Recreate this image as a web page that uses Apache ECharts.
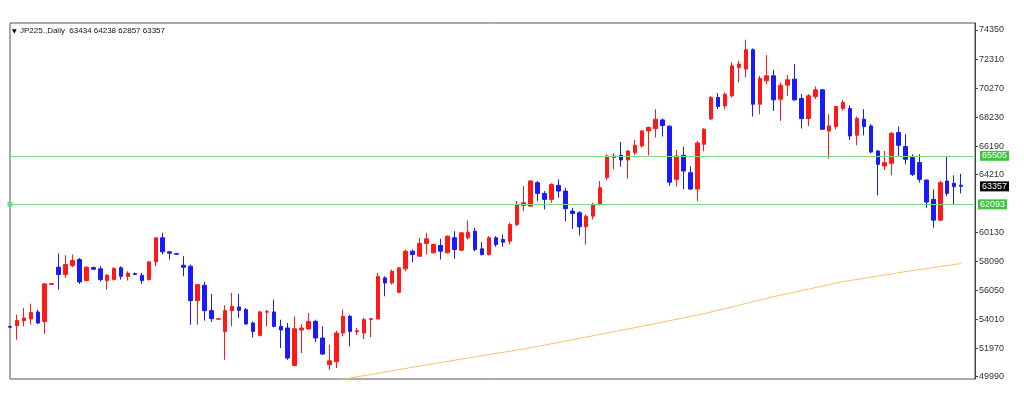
<!DOCTYPE html>
<html>
<head>
<meta charset="utf-8">
<script src="https://cdn.jsdelivr.net/npm/echarts@6/dist/echarts.min.js"></script>
<style>
html,body{margin:0;padding:0;background:#fff;}
#chart{width:1024px;height:402px;}
</style>
</head>
<body>
<div id="chart"></div>
<script>
// ---- data (JP225 daily) ----
const openP = [53505,53562,53914,54034,54527,53865,56472,57670,57156,57790,58213,56733,57649,57557,56733,56803,57628,57015,57226,57107,
56803,58050,59742,58756,58636,57811,57741,55324,56402,54619,54020,53160,54619,54880,54689,53752,52878,54513,54527,53512,
53400,50764,53258,53329,53865,52695,50813,51025,53047,54217,53139,53047,54006,54034,56923,56571,55909,57557,58798,58446,
59340,58685,59199,58685,59742,58868,59742,60207,58967,58565,59742,59622,59502,60678,62018,61969,63618,62864,62441,63428,
63026,61617,61504,60517,61264,62089,63970,65380,65542,65210,65732,66197,67254,67423,68029,67585,63850,65542,64322,63167,
66317,68100,69608,69016,69720,71722,71602,72962,69136,70778,71130,69488,70475,70897,69537,68128,69678,70143,67254,67564,
68833,68833,66951,68079,67606,65845,64788,64978,67141,66155,65380,65028,63801,62441,60982,63731,63569,63434];
const closeP = [53456,53935,54104,54499,53752,56500,56522,57156,57861,58142,56641,57670,57529,56803,57107,57579,57036,57248,57156,56733,
58050,59742,58756,58657,58586,57670,55324,56451,54619,54055,54055,54619,54922,54640,53682,53160,54527,54548,53512,53258,
51286,53350,53400,53865,52695,51567,51095,53047,54217,53160,53210,53984,54055,57015,56571,57389,57628,58798,58565,59340,
59671,59270,58798,59855,58917,60094,60137,58917,58565,59742,59270,59432,60678,62089,62208,63731,62864,62441,63498,63026,
61786,61454,60517,61264,62089,63266,65493,65493,65210,65845,66247,67254,67494,68079,67635,63653,65493,64435,63167,66408,
67374,69608,68974,69840,71835,71955,72962,69136,70947,71130,69439,70475,70848,69439,68128,69721,70143,67374,67606,68974,
69256,66902,68128,67564,65774,64907,65028,67092,66247,65260,64203,63850,62251,60982,63618,62864,63336,63357];
const lowP = [53421,52575,53512,53632,53682,52977,56451,56098,56923,57670,56500,56684,57508,56684,56098,56733,56803,56733,57121,56500,
56733,57741,58565,58213,58565,57036,53632,53632,53914,53823,53984,51165,53512,54104,53632,52737,52808,53512,53442,51990,
51165,50694,51638,53280,52413,51518,50461,50581,52808,52104,52927,52624,52765,54020,55627,56451,55866,57389,58022,58420,
58565,58636,58213,58636,58262,58798,59622,58798,58495,58495,59107,59107,59270,60559,61617,61926,62321,61736,62208,62561,
60912,60376,59904,59270,61031,62018,63801,64555,64745,63900,65542,66085,65542,66789,66860,63399,63350,63146,63111,62321,
65824,68029,68783,68783,69608,70665,71017,68269,68431,70545,68664,67959,69721,69368,67423,67606,69488,67325,65309,67374,
68664,66620,66247,66951,65683,62724,64506,64132,65493,64907,64083,63618,61856,60447,60912,62674,62089,62857];
const highP = [53562,54337,54809,55112,54689,56571,56557,58636,58516,58565,58333,57741,57720,57741,57205,57670,57741,57389,57297,57276,
58093,59760,60094,58798,58657,58446,57861,56500,56641,55796,54076,54992,55866,55796,54809,53865,54619,54689,55394,53984,
53752,54217,53682,54456,53984,53512,52223,53210,54689,54337,53400,54104,54104,57276,57036,57508,57699,58917,58917,59742,
60094,59340,59671,59904,60207,60137,60961,60447,59432,59855,59855,59975,60799,62321,63378,63801,63731,63026,63569,63850,
63266,61856,61617,61384,62208,63731,65612,65683,66479,65915,66620,67325,67564,68783,68128,67656,65915,66155,64766,66549,
67458,69721,69911,69960,72074,72187,73667,73061,71130,72589,71553,70665,71179,71955,69840,69840,70383,70193,68431,69016,
69439,69065,68269,68783,67726,65915,65845,67184,67564,67021,65612,65612,63850,63146,63731,65492,64132,64238];
// moving average read at a few candles (index -> value), connected by the library
const maIndex = [44, 48, 60, 75, 90, 100, 110, 120, 130, 137];
const maValue = [49420, 49792, 50813, 52011, 53420, 54408, 55605, 56662, 57438, 57931];
// horizontal levels and price labels
const levels = [65505, 62093];
const lastPrice = 63357;
const yTicks = [74350, 72310, 70270, 68230, 66190, 64210, 60130, 58090, 56050, 54010, 51970, 49990];
const headerText = 'JP225.,Daily  63434 64238 62857 63357';
const extraSlots = 2;

// ---- build ----
const n = openP.length;
const cats = [];
for (let i = 0; i < n + extraSlots; i++) cats.push(String(i));
const candles = openP.map((o, i) => [o, closeP[i], lowP[i], highP[i]]);
const ma = new Array(n).fill(null);
maIndex.forEach((ix, k) => { ma[ix] = maValue[k]; });

const FONT = 'Liberation Sans';
const green = '#7dd87d';
const greenLbl = '#3ec43e';

const chart = echarts.init(document.getElementById('chart'), null, {renderer: 'canvas'});
chart.setOption({
  animation: false,
  backgroundColor: '#ffffff',
  graphic: [
    {type: 'text', left: 12, top: 28, style: {text: '\u25BC', fontSize: 6, fill: '#000', fontFamily: 'DejaVu Sans'}},
    {type: 'text', left: 20, top: 27, style: {text: headerText, fontSize: 8, fill: '#111', fontFamily: FONT}}
  ],
  grid: {left: 10, right: 49, top: 23, bottom: 23, show: true, borderColor: '#555', borderWidth: 1, backgroundColor: '#fff'},
  xAxis: {
    type: 'category', data: cats, boundaryGap: false,
    axisLine: {show: false}, axisTick: {show: false}, axisLabel: {show: false}, splitLine: {show: false}
  },
  yAxis: {
    type: 'value', position: 'right', min: 49814, max: 74843, scale: true,
    axisLine: {show: true, lineStyle: {color: '#444', width: 1}},
    axisTick: {show: true, length: 3, lineStyle: {color: '#444'}, customValues: yTicks},
    axisLabel: {show: true, customValues: yTicks, fontSize: 9, color: '#333', fontFamily: FONT, margin: 4,
      formatter: function (v) { return String(Math.round(v)); }},
    splitLine: {show: false}
  },
  series: [
    {
      type: 'line', data: ma, connectNulls: true, showSymbol: false, symbol: 'none',
      lineStyle: {color: '#f2c46b', width: 1}, z: 1, clip: true, silent: true
    },
    {
      type: 'candlestick', data: candles, barWidth: 4, clip: true, z: 3,
      itemStyle: {color: '#ff1a1a', color0: '#1a1aff', borderColor: '#ff1a1a', borderColor0: '#1a1aff', borderWidth: 1},
      markLine: {
        silent: true, symbol: ['none', 'none'], animation: false, precision: 0,
        data: [
          {yAxis: levels[0], lineStyle: {color: green, width: 1, type: 'solid'},
           label: {show: true, position: 'end', distance: 5, formatter: String(levels[0]), backgroundColor: greenLbl, color: '#fff', fontSize: 9, fontFamily: FONT, padding: [1, 2, 0, 2]}},
          {yAxis: levels[1], symbol: ['emptyCircle', 'emptyCircle'], symbolSize: 5, lineStyle: {color: green, width: 1, type: 'solid'},
           itemStyle: {color: green},
           label: {show: true, position: 'end', distance: 3, formatter: String(levels[1]), backgroundColor: greenLbl, color: '#fff', fontSize: 9, fontFamily: FONT, padding: [1, 2, 0, 2]}},
          {yAxis: lastPrice, lineStyle: {color: 'rgba(0,0,0,0)', width: 1},
           label: {show: true, position: 'end', distance: 5, formatter: String(lastPrice), backgroundColor: '#000', color: '#fff', fontSize: 9, fontFamily: FONT, padding: [1, 2, 0, 2]}}
        ]
      }
    }
  ]
});
</script>
</body>
</html>
